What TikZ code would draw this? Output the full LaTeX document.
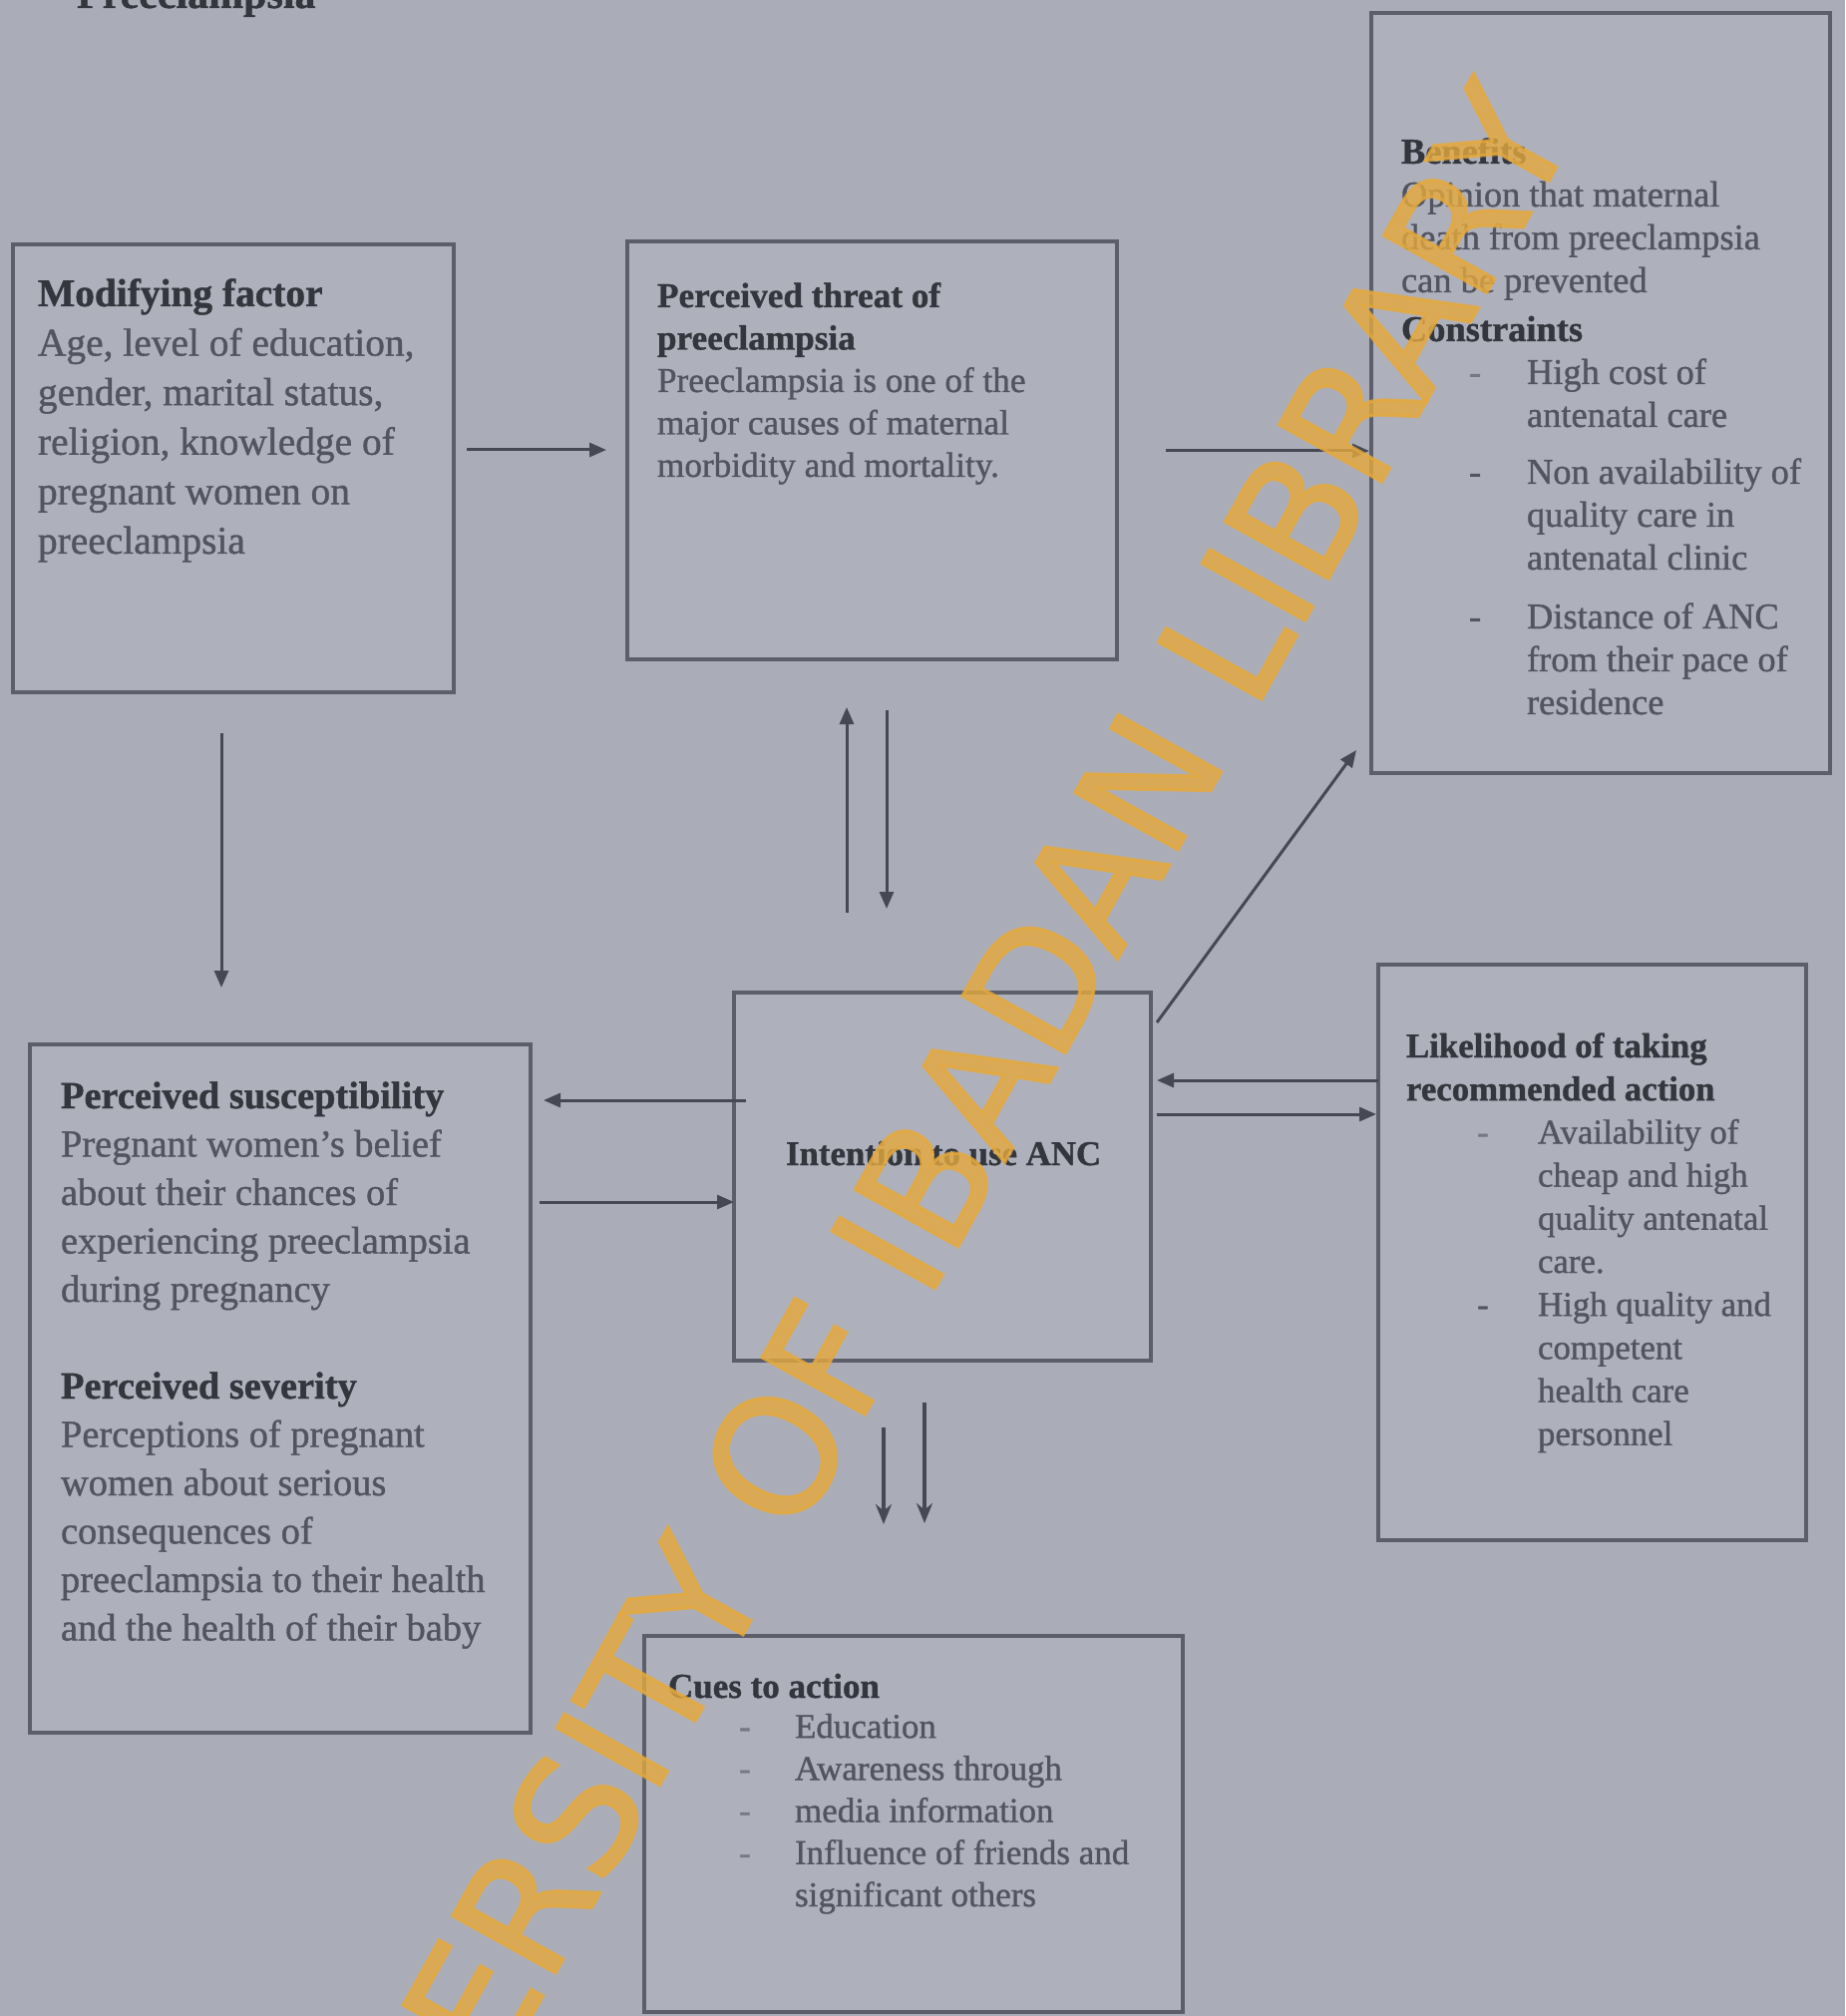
\documentclass[tikz,border=0pt]{standalone}
\usepackage{fontspec}
\setmainfont{Liberation Serif}[FakeBold=1]
\newfontfamily\wmfont[FakeBold=2]{DejaVu Sans}
\usetikzlibrary{arrows.meta,calc}
\definecolor{bgc}{RGB}{170,173,184}
\definecolor{boxfill}{RGB}{174,177,188}
\definecolor{boxline}{RGB}{92,95,105}
\definecolor{linec}{RGB}{70,73,83}
\definecolor{headc}{RGB}{52,54,62}
\definecolor{bodyc}{RGB}{82,85,95}
\definecolor{faintc}{RGB}{118,121,131}
\definecolor{wmc}{RGB}{229,169,62}
\newcommand\hd[1]{\textbf{\color{headc}#1}}
\newcommand\dsh[2]{\hspace*{#1}\makebox[#2][l]{-}}
\newcommand\fdsh[2]{\hspace*{#1}\makebox[#2][l]{\color{faintc}-}}
\newcommand\ind[1]{\hspace*{#1}}
\begin{document}
\begin{tikzpicture}[x=0.5pt,y=-0.5pt,
  every node/.style={inner sep=0pt,outer sep=0pt},
  box/.style={draw=boxline,line width=2pt,fill=boxfill,rectangle,anchor=north west},
  txt/.style={anchor=base west,text=bodyc,align=left},
  arr/.style={draw=linec,line width=1.5pt,-{Triangle[length=8.5pt,width=7pt]}},
  arrb/.style={draw=linec,line width=1.6pt,-{Stealth[length=10pt,width=8pt]}}]
\useasboundingbox (0,0) rectangle (1850,2021);
\fill[bgc] (0,0) rectangle (1850,2021);
\clip (0,0) rectangle (1850,2021);

% cut-off caption at the top
\node[anchor=base west,text=headc,font=\bfseries\fontsize{21pt}{25pt}\selectfont] (cap) at (77,8) {Preeclampsia};

% boxes
\node[box,minimum width=221pt,minimum height=224.5pt] (mod) at (13,245) {};
\node[box,minimum width=245.5pt,minimum height=209.5pt] (thr) at (629,242) {};
\node[box,minimum width=230pt,minimum height=381pt] (ben) at (1375,13) {};
\node[box,minimum width=251pt,minimum height=345pt] (sus) at (30,1047) {};
\node[box,minimum width=209pt,minimum height=184.5pt] (int) at (736,995) {};
\node[box,minimum width=214.5pt,minimum height=288.5pt] (lik) at (1382,967) {};
\node[box,minimum width=270pt,minimum height=188.5pt] (cue) at (646,1640) {};

% texts
\node[txt] (modt) at (38,307) {\fontsize{19.7pt}{24.8pt}\selectfont\begin{tabular}[t]{@{}l@{}}
\hd{Modifying factor}\\
Age, level of education,\\
gender, marital status,\\
religion, knowledge of\\
pregnant women on\\
preeclampsia
\end{tabular}};

\node[txt] (thrt) at (659,308) {\fontsize{17.6pt}{21.25pt}\selectfont\begin{tabular}[t]{@{}l@{}}
\hd{Perceived threat of}\\
\hd{preeclampsia}\\
Preeclampsia is one of the\\
major causes of maternal\\
morbidity and mortality.
\end{tabular}};

\node[txt] (bent) at (1405,164) {\fontsize{18.2pt}{21.5pt}\selectfont\begin{tabular}[t]{@{}l@{}}
\hd{Benefits}\\
Opinion that maternal\\
death from preeclampsia\\
can be prevented\\[3pt]
\hd{Constraints}\\
\fdsh{34pt}{29pt}High cost of\\
\ind{63pt}antenatal care\\[7pt]
\dsh{34pt}{29pt}Non availability of\\
\ind{63pt}quality care in\\
\ind{63pt}antenatal clinic\\[8pt]
\dsh{34pt}{29pt}Distance of ANC\\
\ind{63pt}from their pace of\\
\ind{63pt}residence
\end{tabular}};

\node[txt] (sust) at (61,1111) {\fontsize{19.2pt}{24.25pt}\selectfont\begin{tabular}[t]{@{}l@{}}
\hd{Perceived susceptibility}\\
Pregnant women's belief\\
about their chances of\\
experiencing preeclampsia\\
during pregnancy\\[24.25pt]
\hd{Perceived severity}\\
Perceptions of pregnant\\
women about serious\\
consequences of\\
preeclampsia to their health\\
and the health of their baby
\end{tabular}};

\node[txt,text=headc,font=\bfseries\fontsize{17.4pt}{21pt}\selectfont] (intt) at (788,1168) {Intention to use ANC};

\node[txt] (likt) at (1410,1060) {\fontsize{17.4pt}{21.6pt}\selectfont\begin{tabular}[t]{@{}l@{}}
\hd{Likelihood of taking}\\
\hd{recommended action}\\
\fdsh{35.5pt}{30.5pt}Availability of\\
\ind{66pt}cheap and high\\
\ind{66pt}quality antenatal\\
\ind{66pt}care.\\
\dsh{35.5pt}{30.5pt}High quality and\\
\ind{66pt}competent\\
\ind{66pt}health care\\
\ind{66pt}personnel
\end{tabular}};

\node[txt] (cuet) at (670,1702) {\fontsize{17.5pt}{21.1pt}\selectfont\begin{tabular}[t]{@{}l@{}}
\hd{Cues to action}\\[-1pt]
\fdsh{35.5pt}{28pt}Education\\
\fdsh{35.5pt}{28pt}Awareness through\\
\fdsh{35.5pt}{28pt}media information\\
\fdsh{35.5pt}{28pt}Influence of friends and\\
\ind{63.5pt}significant others
\end{tabular}};

% helper coordinates
\coordinate (yA) at (0,451);
\coordinate (yB) at (0,452);
\coordinate (xA) at (222,0);
\coordinate (xU) at (849,0);
\coordinate (xD) at (889,0);
\coordinate (yL1) at (0,1083);
\coordinate (yL2) at (0,1117);
\coordinate (yS1) at (0,1103);
\coordinate (yS2) at (0,1205);
\coordinate (xC1) at (886,0);
\coordinate (xC2) at (927,0);

% connectors
\draw[arr,shorten <=6.5pt,shorten >=10.5pt] (mod.east |- yA) -- (thr.west |- yA);
\draw[arr,shorten <=24.5pt,shorten >=1pt] (thr.east |- yB) -- (ben.west |- yB);
\draw[arr,shorten <=20.5pt,shorten >=28.5pt] (xA |- mod.south) -- (xA |- sus.north);
\draw[arr,shorten <=40pt,shorten >=24pt] (xU |- int.north) -- (xU |- thr.south);
\draw[arr,shorten <=25.5pt,shorten >=42pt] (xD |- thr.south) -- (xD |- int.north);
\draw[arr] ([shift={(6,30)}]int.north east) -- ([shift={(-15,-23)}]ben.south west);
\draw[arr,shorten >=3pt] (lik.west |- yL1) -- (int.east |- yL1);
\draw[arr,shorten <=3pt,shorten >=1pt] (int.east |- yL2) -- (lik.west |- yL2);
\draw[arr,shorten <=-6pt,shorten >=6.5pt] (int.west |- yS1) -- (sus.east |- yS1);
\draw[arr,shorten <=4.5pt] (sus.east |- yS2) -- (int.west |- yS2);
\draw[arrb,shorten <=33.5pt,shorten >=56pt] (xC1 |- int.south) -- (xC1 |- cue.north);
\draw[arrb,shorten <=21pt,shorten >=56.5pt] (xC2 |- int.south) -- (xC2 |- cue.north);

% watermark
\node[rotate=61,text=wmc,opacity=0.8,font=\wmfont\fontsize{81pt}{81pt}\selectfont] (wm) at (892,1252) {UNIVERSITY OF IBADAN LIBRARY};
\end{tikzpicture}
\end{document}
